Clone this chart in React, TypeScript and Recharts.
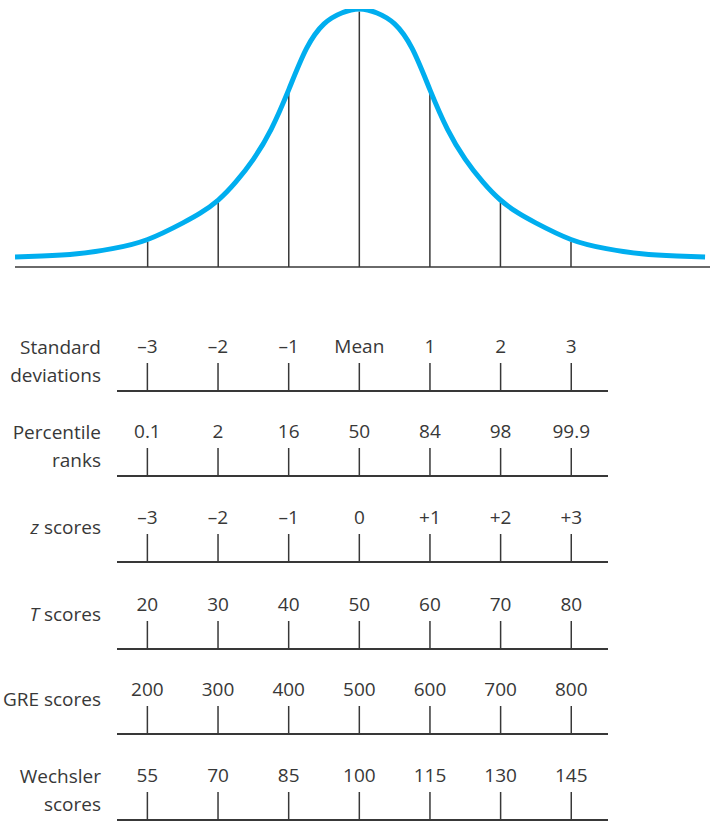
import React from 'react';
import { LineChart, Line, XAxis, YAxis, ReferenceLine } from 'recharts';

// normal curve, heights (peak = 100)
const CURVE_Z = [-4.88, -4.5, -4, -3.5, -3, -2.5, -2.25, -2, -1.75, -1.5, -1.25, -1, -0.75, -0.5, -0.25, 0, 0.25, 0.5, 0.75, 1, 1.25, 1.5, 1.75, 2, 2.25, 2.5, 3, 3.5, 4, 4.5, 4.9];
const CURVE_H = [0, 0.4, 1.3, 3.4, 7.1, 13.8, 17.8, 23, 30.3, 39.5, 51.5, 67.5, 84, 94, 98.4, 100, 98.4, 94, 84, 67.5, 51.5, 39.5, 30.3, 23, 17.8, 13.8, 7.1, 3.4, 1.3, 0.4, 0];

const SD_POSITIONS = [-3, -2, -1, 0, 1, 2, 3];

const ROW_NAMES = [
  ['Standard', 'deviations'],
  ['Percentile', 'ranks'],
  ['z scores'],
  ['T scores'],
  ['GRE scores'],
  ['Wechsler', 'scores'],
];
const SD_LABELS = ['–3', '–2', '–1', 'Mean', '1', '2', '3'];
const PERCENTILE_LABELS = ['0.1', '2', '16', '50', '84', '98', '99.9'];
const Z_LABELS = ['–3', '–2', '–1', '0', '+1', '+2', '+3'];
const T_LABELS = ['20', '30', '40', '50', '60', '70', '80'];
const GRE_LABELS = ['200', '300', '400', '500', '600', '700', '800'];
const WECHSLER_LABELS = ['55', '70', '85', '100', '115', '130', '145'];

const ROW_LABELS = [SD_LABELS, PERCENTILE_LABELS, Z_LABELS, T_LABELS, GRE_LABELS, WECHSLER_LABELS];
const ROW_BASELINES = [391, 476, 562, 649, 734, 820];

const FONT = '"Open Sans", "Noto Sans", sans-serif';
const INK = '#383838';
const FONT_SIZE = 19;

const curveData = CURVE_Z.map((z, i) => ({ z, h: CURVE_H[i] }));

const heightAt = (z: number) => {
  const i = CURVE_Z.indexOf(z);
  return i >= 0 ? CURVE_H[i] : 0;
};

const RowName: React.FC<{ lines: string[]; baseline: number }> = ({ lines, baseline }) => {
  const firstCenter = lines.length === 2 ? baseline - 44 : baseline - 35;
  return (
    <div
      style={{
        position: 'absolute',
        top: firstCenter - 14,
        left: 0,
        width: 101,
        textAlign: 'right',
        fontFamily: FONT,
        fontSize: FONT_SIZE,
        lineHeight: '28px',
        color: INK,
      }}
    >
      {lines.map((l, i) => {
        if (l === 'z scores' || l === 'T scores') {
          return (
            <div key={i}>
              <i>{l[0]}</i>
              {l.slice(1)}
            </div>
          );
        }
        return <div key={i}>{l}</div>;
      })}
    </div>
  );
};

const ScaleRow: React.FC<{ labels: string[]; baseline: number }> = ({ labels, baseline }) => {
  const data = SD_POSITIONS.map((z, i) => ({ z, label: labels[i] }));
  return (
    <div style={{ position: 'absolute', top: baseline - 86, left: 0 }}>
      <LineChart width={710} height={92} data={data} margin={{ top: 0, right: 102, left: 117, bottom: 0 }}>
        <XAxis
          dataKey="z"
          type="number"
          orientation="top"
          domain={[-3.43, 3.52]}
          allowDataOverflow
          ticks={SD_POSITIONS}
          tickFormatter={(v: number) => labels[SD_POSITIONS.indexOf(v)]}
          height={86}
          tickSize={28}
          tickMargin={10}
          axisLine={{ stroke: INK, strokeWidth: 2 }}
          tickLine={{ stroke: INK, strokeWidth: 1.5 }}
          tick={{ fill: INK, fontSize: FONT_SIZE, fontFamily: FONT }}
          interval={0}
        />
        <YAxis hide domain={[0, 1]} />
      </LineChart>
    </div>
  );
};

const App: React.FC = () => {
  return (
    <div style={{ position: 'relative', width: 710, height: 821, overflow: 'hidden', background: '#fff' }}>
      <style>{`body { margin: 0; }`}</style>
      <div style={{ position: 'absolute', top: 0, left: 0 }}>
        <LineChart width={710} height={290} data={curveData} margin={{ top: 9, right: 0, left: 15, bottom: 0 }}>
          <XAxis
            dataKey="z"
            type="number"
            domain={[-4.88, 4.97]}
            allowDataOverflow
            height={23}
            tick={false}
            tickLine={false}
            axisLine={{ stroke: INK, strokeWidth: 1.5 }}
          />
          <YAxis hide domain={[-4, 100]} allowDataOverflow />
          {SD_POSITIONS.map(z => (
            <ReferenceLine
              key={z}
              segment={[{ x: z, y: -4 }, { x: z, y: heightAt(z) - 1 }]}
              stroke={INK}
              strokeWidth={1.5}
            />
          ))}
          <Line
            type="natural"
            dataKey="h"
            stroke="#00aeef"
            strokeWidth={5}
            dot={false}
            isAnimationActive={false}
          />
        </LineChart>
      </div>
      {ROW_NAMES.map((lines, i) => (
        <React.Fragment key={i}>
          <RowName lines={lines} baseline={ROW_BASELINES[i]} />
          <ScaleRow labels={ROW_LABELS[i]} baseline={ROW_BASELINES[i]} />
        </React.Fragment>
      ))}
    </div>
  );
};

export default App;
